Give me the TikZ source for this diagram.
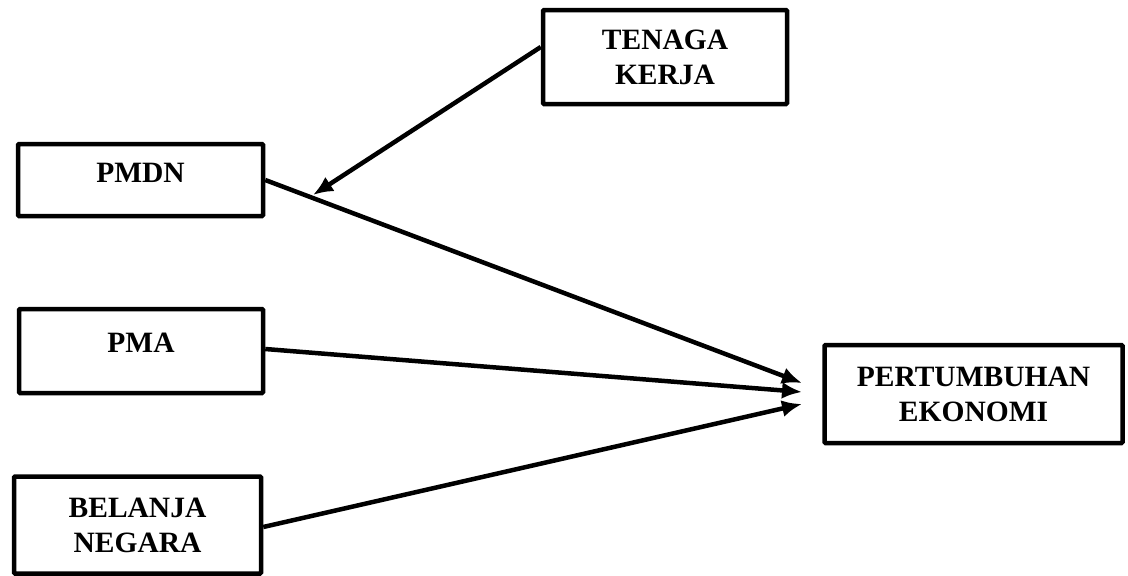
\documentclass[tikz,border=0pt]{standalone}
\usepackage{fontspec}
\setmainfont{Liberation Serif}
\usetikzlibrary{arrows.meta,calc}
\begin{document}
\begin{tikzpicture}[x=1pt,y=-1pt,
  box/.style={draw=black,line width=4.5pt,rounded corners=1pt,inner sep=0pt,align=center,
    font=\fontsize{29.5}{35}\selectfont\bfseries},
  conn/.style={line width=4.5pt,-{Latex[length=20pt,width=17pt]}}]
\useasboundingbox (0,0) rectangle (1128,576);
\node[box,minimum width=244pt,minimum height=94pt] (tenaga) at (665,57) {TENAGA\\KERJA};
\node[box,minimum width=245pt,minimum height=72pt,text depth=14pt] (pmdn) at (140.5,180) {PMDN};
\node[box,minimum width=244pt,minimum height=84pt,text depth=17pt] (pma) at (141,351) {PMA};
\node[box,minimum width=247pt,minimum height=97pt] (belanja) at (137.5,525) {BELANJA\\NEGARA};
\node[box,minimum width=298pt,minimum height=98pt] (pe) at (973.5,394) {PERTUMBUHAN\\EKONOMI};
\coordinate (tk) at ($(tenaga.west)+(0,-10)$);
\coordinate (tkend) at (313,195);
\coordinate (pa) at (802,383);
\coordinate (pb) at (802,392);
\coordinate (pc) at (802,404);
\draw[conn] (tk) -- (tkend);
\draw[conn] (pmdn.east) -- (pa);
\draw[conn] ($(pma.east)+(0,-2)$) -- (pb);
\draw[conn] ($(belanja.east)+(0,2)$) -- (pc);
\end{tikzpicture}
\end{document}
